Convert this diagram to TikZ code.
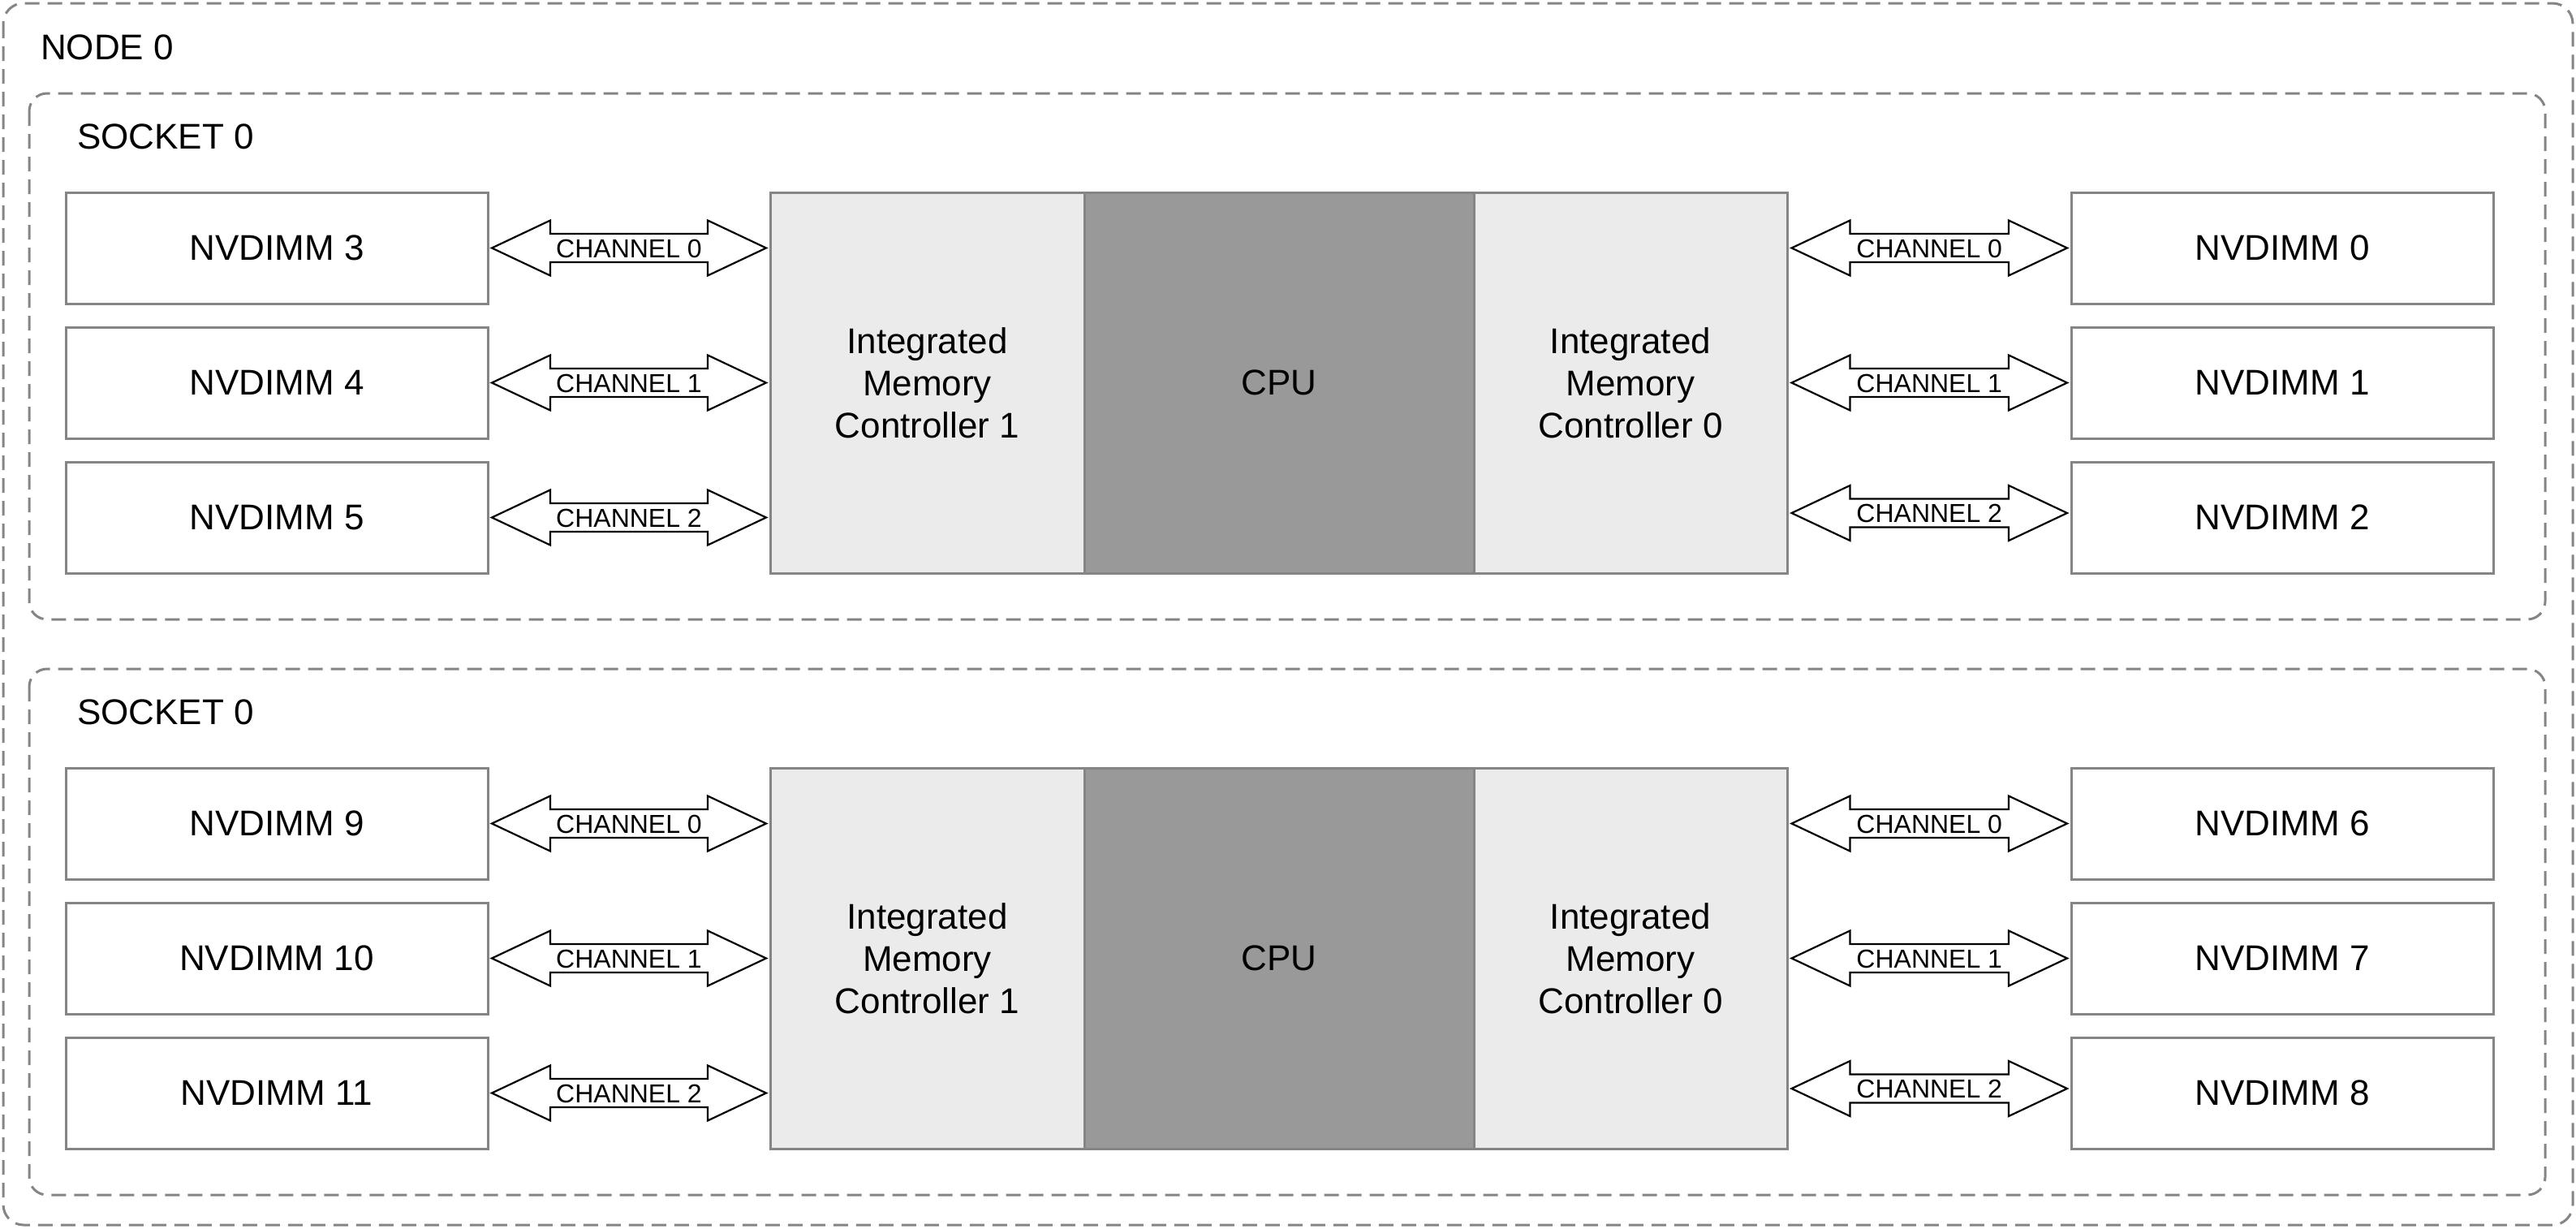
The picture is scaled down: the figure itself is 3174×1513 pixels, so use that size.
\documentclass[tikz,border=0pt]{standalone}
\usepackage{fontspec}
\setmainfont{Liberation Sans}
\usetikzlibrary{calc}
\definecolor{bord}{HTML}{858585}
\definecolor{imcfill}{HTML}{EBEBEB}
\definecolor{cpufill}{HTML}{999999}
\newcommand\bigfont{\fontsize{44}{52}\selectfont}
\newcommand\chanlink[6]{%
  \path (#3.center -| #1.east) ++(3.5,#4) coordinate (#6-s);
  \path (#3.center -| #2.west) ++(-3.5,#4) coordinate (#6-e);
  \draw[chanshape] (#6-s) -- ($(#6-s)+(72,-34)$) -- ($(#6-s)+(72,-17.5)$)
     -- ($(#6-e)+(-72,-17.5)$) -- ($(#6-e)+(-72,-34)$) -- (#6-e)
     -- ($(#6-e)+(-72,34)$) -- ($(#6-e)+(-72,17.5)$)
     -- ($(#6-s)+(72,17.5)$) -- ($(#6-s)+(72,34)$) -- cycle;
  \node[chanlbl] (#6) at ($(#6-s)!0.5!(#6-e)$) {#5};
}
\begin{document}
\begin{tikzpicture}[x=1pt,y=-1pt,
  dimm/.style={draw=bord, line width=3pt, fill=white, minimum width=520pt,
    minimum height=137pt, inner sep=0pt, font=\bigfont},
  imc/.style={draw=bord, line width=3pt, fill=imcfill, minimum width=387pt,
    minimum height=469pt, inner sep=0pt, align=center, font=\bigfont},
  cpu/.style={draw=bord, line width=3pt, fill=cpufill, minimum width=480pt,
    minimum height=469pt, inner sep=0pt, font=\bigfont},
  grp/.style={draw=bord, line width=3pt, dash pattern=on 18pt off 10pt,
    rounded corners=22pt},
  chanshape/.style={draw=black, line width=2.2pt, fill=white, line join=miter},
  chanlbl/.style={font=\fontsize{32}{32}\selectfont, inner sep=0pt,
    text height=23pt, text depth=0pt},
  title/.style={font=\bigfont, anchor=west, inner sep=0pt, text height=31pt,
    text depth=0pt}]
\useasboundingbox (0,0) rectangle (3174,1513);
\fill[white] (0,0) rectangle (3174,1513);

% node frame
\draw[grp, rounded corners=25pt] (4,4) rectangle (3170,1509);
\node[title] (nodetitle) at (50,57.5) {NODE 0};

\foreach \s/\oy/\la/\lb/\lc/\ra/\rb/\rc in
  {1/0/3/4/5/0/1/2, 2/709/9/10/11/6/7/8} {
  \draw[grp] (36,115+\oy) rectangle (3136,763+\oy);
  \node[title] (st\s) at (95,168+\oy) {SOCKET 0};
  % memory controllers and cpu
  \node[imc] (imcl\s) at (1142.5,471.5+\oy) {Integrated\\Memory\\Controller 1};
  \node[imc] (imcr\s) at (2009,471.5+\oy) {Integrated\\Memory\\Controller 0};
  \node[cpu] (cpu\s) at (1576,471.5+\oy) {CPU};
  % dimms
  \node[dimm] (l\s a) at (341,305.5+\oy) {NVDIMM \la};
  \node[dimm] (l\s b) at (341,471.5+\oy) {NVDIMM \lb};
  \node[dimm] (l\s c) at (341,637.5+\oy) {NVDIMM \lc};
  \node[dimm] (r\s a) at (2812,305.5+\oy) {NVDIMM \ra};
  \node[dimm] (r\s b) at (2812,471.5+\oy) {NVDIMM \rb};
  \node[dimm] (r\s c) at (2812,637.5+\oy) {NVDIMM \rc};
  % channels
  \chanlink{l\s a}{imcl\s}{l\s a}{0}{CHANNEL 0}{cl\s a}
  \chanlink{l\s b}{imcl\s}{l\s b}{0}{CHANNEL 1}{cl\s b}
  \chanlink{l\s c}{imcl\s}{l\s c}{0}{CHANNEL 2}{cl\s c}
  \chanlink{imcr\s}{r\s a}{r\s a}{0}{CHANNEL 0}{cr\s a}
  \chanlink{imcr\s}{r\s b}{r\s b}{0}{CHANNEL 1}{cr\s b}
  \chanlink{imcr\s}{r\s c}{r\s c}{-5.5}{CHANNEL 2}{cr\s c}
}
\end{tikzpicture}
\end{document}
